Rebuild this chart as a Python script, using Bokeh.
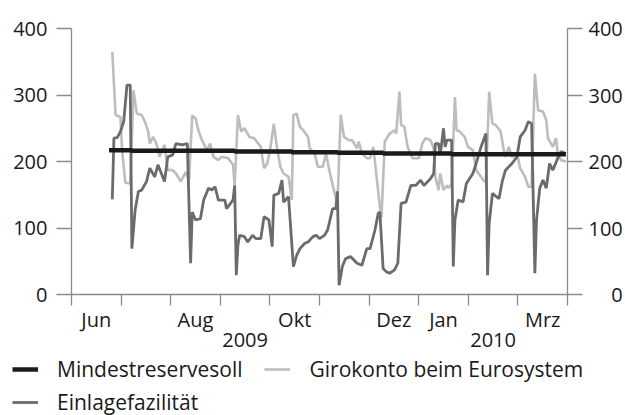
from bokeh.plotting import figure
from bokeh.layouts import column
from bokeh.models import (LinearAxis, FixedTicker, Range1d, Legend, LegendItem)
from bokeh.embed import file_html
from bokeh.resources import INLINE

# ---------------- data (days since 2009-06-01, values in EUR bn) ----------------
DAYS_PER_MONTH = 30.4

res_days = [23, 37, 72, 100, 135, 163, 191, 233, 254, 282, 303]
res_vals = [217, 216, 216, 215, 214, 213, 212, 211, 211, 211, 211]

giro_days = [25, 27, 30, 31, 33, 36, 38, 40, 43, 45, 47, 48, 50, 52, 54, 57, 59, 62, 64, 67,
             70, 72, 74, 76, 78, 80, 83, 85, 87, 90, 92, 96, 99, 100, 102, 104, 106, 109, 112,
             116, 118, 120, 122, 124, 126, 128, 130, 133, 135, 136, 138, 140, 142, 145, 146,
             149, 151, 154, 156, 158, 161, 163, 165, 167, 170, 172, 175, 176, 178, 181, 183,
             185, 187, 189, 190, 192, 195, 198, 199, 201, 202, 204, 206, 209, 213, 215, 217,
             220, 222, 223, 225, 226, 228, 230, 231, 233, 235, 236, 238, 241, 243, 246, 248,
             251, 253, 254, 256, 258, 260, 263, 265, 266, 268, 270, 273, 275, 278, 280, 282,
             284, 286, 289, 291, 292, 295, 297, 298, 300, 303]
giro_vals = [365, 270, 267, 217, 168, 167, 307, 272, 270, 260, 245, 227, 237, 227, 207, 225,
             187, 187, 182, 170, 184, 172, 269, 265, 245, 232, 217, 227, 207, 202, 207, 205,
             195, 164, 270, 245, 250, 237, 235, 222, 190, 197, 222, 257, 220, 192, 182, 177,
             142, 270, 272, 252, 247, 237, 220, 212, 192, 192, 212, 187, 155, 137, 270, 237,
             232, 232, 220, 230, 212, 205, 205, 222, 177, 132, 116, 230, 242, 247, 242, 305,
             255, 252, 222, 205, 205, 227, 235, 232, 220, 177, 157, 182, 157, 164, 160, 167,
             297, 247, 245, 237, 222, 217, 187, 177, 170, 170, 305, 257, 255, 245, 217, 207,
             222, 207, 212, 190, 177, 162, 162, 332, 277, 275, 262, 235, 222, 235, 212, 202,
             200]

ein_days = [25, 26, 28, 30, 32, 34, 36, 37, 39, 41, 43, 46, 48, 51, 53, 57, 59, 62, 64, 68,
            71, 73, 74, 76, 79, 81, 84, 86, 88, 90, 94, 95, 99, 100, 101, 102, 103, 106, 108,
            111, 113, 116, 118, 121, 123, 124, 127, 129, 130, 133, 136, 138, 140, 143, 145,
            148, 150, 152, 155, 157, 160, 162, 163, 164, 166, 168, 171, 175, 178, 181, 183,
            186, 188, 189, 191, 193, 195, 198, 200, 202, 205, 208, 211, 214, 216, 220, 222,
            223, 225, 226, 228, 229, 230, 233, 234, 235, 237, 240, 242, 246, 248, 251, 254,
            255, 256, 258, 262, 264, 266, 270, 273, 275, 278, 280, 282, 284, 285, 287, 289,
            291, 293, 295, 298, 300, 303]
ein_vals = [143, 235, 236, 245, 260, 315, 315, 69, 127, 155, 157, 170, 190, 177, 195, 170,
            207, 210, 227, 225, 227, 47, 124, 112, 114, 142, 160, 157, 162, 142, 142, 129,
            142, 164, 29, 74, 89, 87, 79, 89, 84, 84, 117, 112, 72, 149, 152, 172, 139, 147,
            42, 59, 69, 77, 79, 87, 89, 84, 89, 97, 129, 129, 155, 14, 42, 54, 57, 47, 44, 69,
            69, 97, 122, 124, 39, 34, 32, 37, 47, 137, 139, 164, 164, 172, 164, 174, 182, 227,
            227, 210, 250, 222, 232, 232, 42, 112, 142, 139, 167, 182, 197, 222, 242, 29, 107,
            152, 144, 170, 187, 197, 207, 237, 247, 260, 257, 32, 112, 160, 172, 160, 197, 187,
            205, 215, 212]

month_label_pos = [0.5, 2.5, 4.5, 6.5, 7.5, 9.5]
month_labels = ["Jun", "Aug", "Okt", "Dez", "Jan", "Mrz"]
month_bounds = list(range(11))
year_pos = [3.5, 8.5]
year_labels = ["2009", "2010"]
y_ticks = [0, 100, 200, 300, 400]

series_names = ["Mindestreservesoll", "Girokonto beim Eurosystem", "Einlagefazilität"]

# ---------------- styling ----------------
FONT = "Open Sans"
FS = "20px"
FS_LEG = "21px"
TXT = "#1a1a1a"
AX = "#8a8a8a"
C_RES = "#1a1a1a"
C_GIRO = "#bdbdbd"
C_EIN = "#6b6b6b"
W_RES, W_GIRO, W_EIN = 4.5, 2.6, 2.8

W = 625
H_MAIN = 356
H_LEG = 59


def to_x(days):
    return [d / DAYS_PER_MONTH for d in days]


p = figure(width=W, height=H_MAIN, x_range=Range1d(0, 10), y_range=Range1d(0, 400),
           output_backend="svg", toolbar_location=None,
           min_border_left=71, min_border_right=58, min_border_top=28, min_border_bottom=62)
p.frame_align = False
p.outline_line_color = None
p.xgrid.visible = False
p.ygrid.visible = False

r_giro = p.line(to_x(giro_days), giro_vals, line_color=C_GIRO, line_width=W_GIRO)
r_ein = p.line(to_x(ein_days), ein_vals, line_color=C_EIN, line_width=W_EIN)
r_res = p.step(to_x(res_days), res_vals, mode="after", line_color=C_RES, line_width=W_RES)

# x axis: month ticks at boundaries (minor), labels centred in the month (major)
xa = p.xaxis[0]
xa.ticker = FixedTicker(ticks=month_label_pos, minor_ticks=month_bounds)
xa.major_label_overrides = {pos: lab for pos, lab in zip(month_label_pos, month_labels)}
xa.major_tick_out = 0
xa.major_tick_in = 0
xa.minor_tick_out = 11
xa.minor_tick_in = 0
xa.minor_tick_line_color = AX
xa.minor_tick_line_width = 1.3
xa.axis_line_color = AX
xa.axis_line_width = 1.3
xa.major_label_standoff = 0
xa.major_label_text_font = FONT
xa.major_label_text_font_size = FS
xa.major_label_text_color = TXT

# year axis
yr = LinearAxis(ticker=FixedTicker(ticks=year_pos),
                major_label_overrides={pos: lab for pos, lab in zip(year_pos, year_labels)})
yr.major_tick_out = 0
yr.major_tick_in = 0
yr.minor_tick_out = 0
yr.minor_tick_in = 0
yr.axis_line_color = None
yr.major_label_standoff = -3
yr.major_label_text_font = FONT
yr.major_label_text_font_size = FS
yr.major_label_text_color = TXT
p.add_layout(yr, "below")


def style_y(ax):
    ax.ticker = FixedTicker(ticks=y_ticks)
    ax.major_tick_out = 15
    ax.major_tick_in = 0
    ax.minor_tick_out = 0
    ax.minor_tick_in = 0
    ax.major_tick_line_color = AX
    ax.major_tick_line_width = 1.3
    ax.axis_line_color = AX
    ax.axis_line_width = 1.3
    ax.major_label_text_font = FONT
    ax.major_label_text_font_size = FS
    ax.major_label_text_color = TXT


ya = p.yaxis[0]
style_y(ya)
ya.major_label_standoff = 9

ra = LinearAxis()
style_y(ra)
ra.major_label_standoff = 6
ra.major_label_overrides = {0: "\u2007\u20070"}
p.add_layout(ra, "right")

# ---------------- legend strip ----------------
lf = figure(width=W, height=H_LEG, x_range=Range1d(0, W), y_range=Range1d(0, H_LEG),
            output_backend="svg", toolbar_location=None, x_axis_location=None,
            y_axis_location=None,
            min_border_left=0, min_border_right=0, min_border_top=0, min_border_bottom=0)
lf.frame_align = False
lf.xgrid.visible = False
lf.ygrid.visible = False
lf.outline_line_color = None

# legend proxies (same series, hidden) so the legend can draw its line samples
d_res = lf.step(to_x(res_days), res_vals, mode="after", line_color=C_RES, line_width=W_RES,
                visible=False)
d_giro = lf.line(to_x(giro_days), giro_vals, line_color=C_GIRO, line_width=W_GIRO,
                 visible=False)
d_ein = lf.line(to_x(ein_days), ein_vals, line_color=C_EIN, line_width=W_EIN, visible=False)


def make_legend(items, loc, spacing):
    return Legend(items=items, location=loc, orientation="horizontal",
                  padding=0, margin=0, spacing=spacing, border_line_color=None,
                  background_fill_alpha=0, inactive_fill_alpha=0,
                  glyph_width=26, glyph_height=20,
                  label_standoff=19, label_text_font=FONT, label_text_font_size=FS_LEG,
                  label_text_color=TXT, label_height=27)


leg1 = make_legend([LegendItem(label=series_names[0], renderers=[d_res]),
                    LegendItem(label=series_names[1], renderers=[d_giro])], (12, 32), 22)
leg2 = make_legend([LegendItem(label=series_names[2], renderers=[d_ein])], (12, -1), 0)
lf.add_layout(leg1, "center")
lf.add_layout(leg2, "center")

layout = column(p, lf, spacing=0)
open("out.html", "w").write(file_html(layout, INLINE))
